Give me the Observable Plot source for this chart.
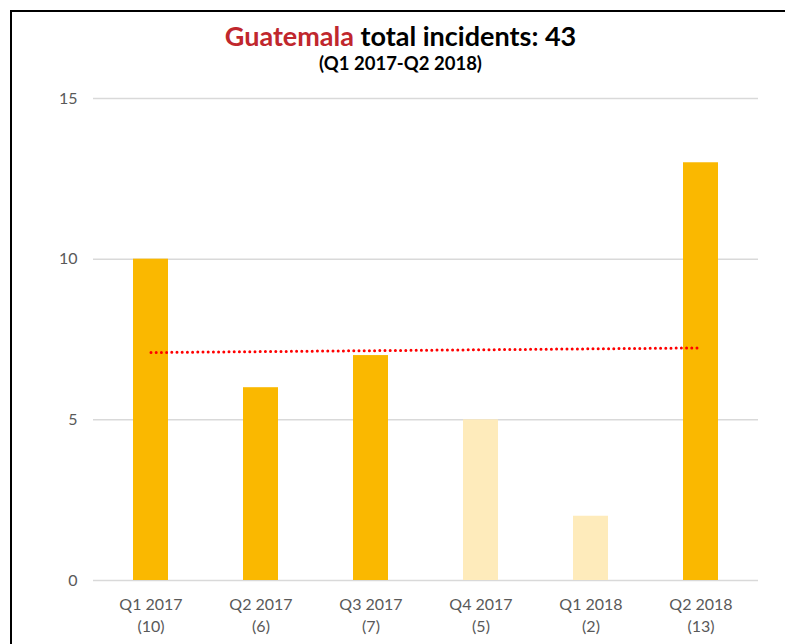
<!DOCTYPE html>
<html><head><meta charset="utf-8">
<script src="https://cdn.jsdelivr.net/npm/d3@7"></script>
<script src="https://cdn.jsdelivr.net/npm/@observablehq/plot@0.6"></script>
<style>
html,body{margin:0;padding:0;}
body{width:785px;height:644px;overflow:hidden;background:#fff;position:relative;font-family:Lato,"Open Sans",sans-serif;}
#frame{position:absolute;left:10px;top:10px;width:820px;height:700px;border:2px solid #000;box-sizing:border-box;}
#title{position:absolute;top:20px;left:0;width:801px;text-align:center;font-weight:bold;font-size:27px;color:#000;line-height:32px;white-space:nowrap;}
#title .c{color:#c0272d;}
#sub{position:absolute;top:52px;left:0;width:801px;text-align:center;font-weight:bold;font-size:18.5px;color:#000;line-height:22px;white-space:nowrap;}
#chart{position:absolute;left:0;top:0;}
</style>
</head><body>
<div id="frame"></div>
<div id="chart"></div>
<div id="title"><span class="c">Guatemala</span> total incidents: 43</div>
<div id="sub">(Q1 2017-Q2 2018)</div>
<script>
const quarters = ["Q1 2017","Q2 2017","Q3 2017","Q4 2017","Q1 2018","Q2 2018"];
const incidents = [10, 6, 7, 5, 2, 13];
const faded = ["Q4 2017","Q1 2018"];
const yTicks = [0, 5, 10, 15];

const data = quarters.map((q, i) => ({q, v: incidents[i]}));

// linear trend (least squares) computed from the data, as in the source chart
const xs = d3.range(1, incidents.length + 1);
const mx = d3.mean(xs), my = d3.mean(incidents);
const slope = d3.sum(xs, (x, i) => (x - mx) * (incidents[i] - my)) / d3.sum(xs, x => (x - mx) ** 2);
const trend = [
  {q: quarters[0], v: my + slope * (xs[0] - mx)},
  {q: quarters[quarters.length - 1], v: my + slope * (xs[xs.length - 1] - mx)}
];

const chart = Plot.plot({
  width: 785,
  height: 644,
  marginTop: 98,
  marginBottom: 64,
  marginLeft: 93,
  marginRight: 27,
  style: {fontFamily: "Lato, 'Open Sans', sans-serif", fontSize: "16px", color: "#595959", background: "transparent"},
  x: {domain: quarters, paddingInner: 0.684, paddingOuter: 0.342, label: null},
  y: {domain: [0, 15], label: null},
  color: {type: "identity"},
  marks: [
    Plot.gridY(yTicks, {stroke: "#d9d9d9", strokeOpacity: 1, strokeWidth: 1.5}),
    Plot.barY(data, {x: "q", y: "v", fill: d => faded.includes(d.q) ? "#feebbb" : "#fab800"}),
    Plot.line(trend, {x: "q", y: "v", stroke: "#ff0000", strokeWidth: 3, strokeDasharray: "0,5.2", strokeLinecap: "round"}),
    Plot.axisY({ticks: yTicks, tickSize: 0, tickPadding: 16, label: null, fill: "#595959"}),
    Plot.axisX({tickSize: 0, tickPadding: 14, lineHeight: 1.38, label: null, fill: "#595959",
      tickFormat: q => `${q}\n(${incidents[quarters.indexOf(q)]})`})
  ]
});
document.getElementById("chart").append(chart);
</script>
</body></html>
